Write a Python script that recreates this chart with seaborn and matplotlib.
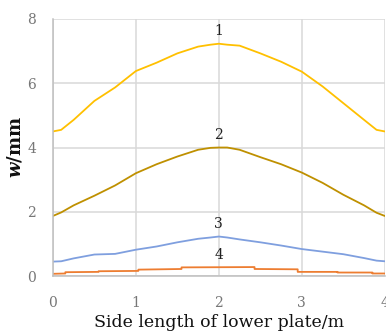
import pandas as pd
import seaborn as sns
import matplotlib.pyplot as plt

# values
x = [0, 0.1, 0.25, 0.5, 0.75, 1, 1.25, 1.5, 1.75, 1.9, 2, 2.1, 2.25, 2.5, 2.75, 3, 3.25, 3.5, 3.75, 3.9, 4]
y1 = [4.5, 4.55, 4.86, 5.45, 5.87, 6.38, 6.64, 6.93, 7.14, 7.2, 7.23, 7.2, 7.17, 6.93, 6.67, 6.36, 5.9, 5.38, 4.86, 4.55, 4.5]
y2 = [1.87, 1.98, 2.2, 2.5, 2.82, 3.2, 3.48, 3.72, 3.93, 3.99, 4.0, 4.0, 3.93, 3.7, 3.48, 3.22, 2.9, 2.53, 2.2, 1.97, 1.87]
y3 = [0.45, 0.46, 0.55, 0.67, 0.69, 0.82, 0.92, 1.05, 1.16, 1.2, 1.23, 1.2, 1.14, 1.05, 0.95, 0.84, 0.76, 0.68, 0.56, 0.48, 0.46]

x4 = [0, 0.15, 0.15, 0.55, 0.55, 1.03, 1.03, 1.55, 1.55, 2.43, 2.43, 2.95, 2.95, 3.43, 3.43, 3.85, 3.85, 4]
y4 = [0.07, 0.08, 0.12, 0.13, 0.15, 0.16, 0.2, 0.22, 0.27, 0.28, 0.22, 0.21, 0.13, 0.13, 0.11, 0.11, 0.08, 0.08]

curve_names = ["1", "2", "3", "4"]
colors = ["#FFC000", "#BF9000", "#7F9FDF", "#ED7D31"]

frames = []
for name, xs, ys in zip(curve_names, [x, x, x, x4], [y1, y2, y3, y4]):
    frames.append(pd.DataFrame({"x": xs, "w": ys, "curve": name}))
df = pd.concat(frames, ignore_index=True)

sns.set_style("white")
plt.rcParams["font.family"] = ["DejaVu Serif"]
plt.rcParams["mathtext.fontset"] = "custom"
plt.rcParams["mathtext.it"] = "DejaVu Serif:italic:bold"

fig = plt.figure(figsize=(3.86, 3.33), dpi=100)
ax = fig.add_axes([0.137, 0.171, 0.86, 0.772])

sns.lineplot(data=df, x="x", y="w", hue="curve", palette=colors, sort=False,
             estimator=None, units="curve", linewidth=1.3, legend=False, ax=ax)

# curve numbers above the peaks
for name, ys in zip(curve_names, [y1, y2, y3, y4]):
    ax.annotate(name, (2, max(ys)), xytext=(0, 9), textcoords="offset points",
                ha="center", va="center", fontsize=10, color="#222222")

ax.set_xlim(0, 4)
ax.set_ylim(0, 8)
ax.set_xticks([0, 1, 2, 3, 4])
ax.set_yticks([0, 2, 4, 6, 8])
ax.grid(True, color="#D9D9D9", linewidth=1.1)
ax.set_axisbelow(True)
for s in ["top", "right"]:
    ax.spines[s].set_visible(False)
for s in ["left", "bottom"]:
    ax.spines[s].set_color("#BFBFBF")
    ax.spines[s].set_linewidth(1.1)
ax.tick_params(length=0, labelsize=10, labelcolor="#777777")
ax.tick_params(axis="x", pad=14)
ax.tick_params(axis="y", pad=12)

ax.set_xlabel("Side length of lower plate/m", fontsize=12.5, color="#111111", labelpad=3)
ax.set_ylabel("$w$/mm", fontsize=13, fontweight="bold", color="#111111", labelpad=2)

fig.savefig("out.png", dpi=100)
